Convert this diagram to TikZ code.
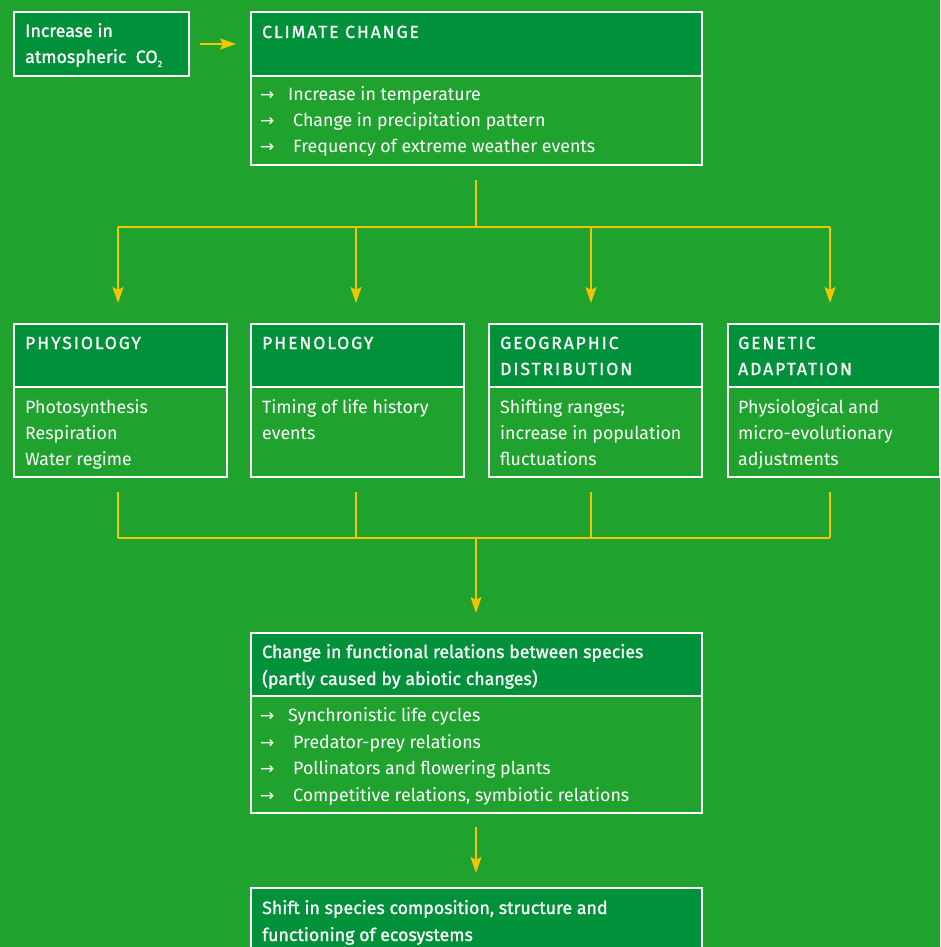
\documentclass[tikz,border=0pt]{standalone}
\usepackage{fontspec}
\setmainfont{Fira Sans}
\newfontfamily\hfont[LetterSpace=11,FakeBold=1.2]{Fira Sans}
\newfontfamily\bfont[FakeBold=1.2]{Fira Sans}
\newfontfamily\arrfont{DejaVu Sans}
\usetikzlibrary{arrows.meta}
\definecolor{bg}{HTML}{20A22E}
\definecolor{hd}{HTML}{00913A}
\definecolor{yl}{HTML}{F2C500}
\tikzset{
  hdrbox/.style={draw=white,line width=2pt,fill=hd,inner sep=0pt,anchor=north west},
  bodybox/.style={draw=white,line width=2pt,inner sep=0pt,anchor=north west},
  txt/.style={anchor=base west,inner sep=0pt,text=white,font=\fontsize{17.8}{20}\selectfont},
  htxt/.style={txt,font=\fontsize{17.5}{20}\hfont},
  btxt/.style={txt,font=\fontsize{17.8}{20}\bfont},
  bul/.style={anchor=base west,inner sep=0pt,text=white,font=\fontsize{17}{18}\arrfont},
  yline/.style={draw=yl,line width=2pt},
  yarrow/.style={yline,-{Stealth[length=16pt,width=11pt,inset=3pt]}}
}
\begin{document}
\begin{tikzpicture}[x=1pt,y=-1pt]
\clip (0,0) rectangle (940,947);
\fill[bg] (0,0) rectangle (940,947);

% CO2 box
\node[hdrbox,minimum width=175pt,minimum height=64pt] (co2) at (13,11) {};
\node[btxt] (co2a) at (25,37) {Increase in};
\node[btxt] (co2b) at (25,63) {atmospheric\ \ CO\raisebox{-4pt}{\fontsize{9}{9}\selectfont 2}};

% Climate change
\node[hdrbox,minimum width=451pt,minimum height=64pt] (climh) at (250,11) {};
\node[bodybox,minimum width=451pt,minimum height=89pt] (climb) at (250,75) {};
\node[htxt] (climt) at (262,38) {CLIMATE CHANGE};
\node[bul] (ca1) at (260,101) {→};
\node[txt] (c1) at (288,101) {Increase in temperature};
\node[bul] (ca2) at (260,127) {→};
\node[txt] (c2) at (293,127) {Change in precipitation pattern};
\node[bul] (ca3) at (260,153) {→};
\node[txt] (c3) at (293,153) {Frequency of extreme weather events};

% Row boxes
\node[hdrbox,minimum width=213pt,minimum height=63pt] (physh) at (13,323) {};
\node[bodybox,minimum width=213pt,minimum height=90pt] (physb) at (13,386) {};
\node[hdrbox,minimum width=213pt,minimum height=63pt] (phenh) at (250,323) {};
\node[bodybox,minimum width=213pt,minimum height=90pt] (phenb) at (250,386) {};
\node[hdrbox,minimum width=213pt,minimum height=63pt] (geoh) at (488,323) {};
\node[bodybox,minimum width=213pt,minimum height=90pt] (geob) at (488,386) {};
\node[hdrbox,minimum width=212pt,minimum height=63pt] (genh) at (727,323) {};
\node[bodybox,minimum width=212pt,minimum height=90pt] (genb) at (727,386) {};

\node[htxt] (pht) at (25,349) {PHYSIOLOGY};
\node[txt] (ph1) at (25,413) {Photosynthesis};
\node[txt] (ph2) at (25,439) {Respiration};
\node[txt] (ph3) at (25,465) {Water regime};

\node[htxt] (pnt) at (262,349) {PHENOLOGY};
\node[txt] (pn1) at (262,413) {Timing of life history};
\node[txt] (pn2) at (262,439) {events};

\node[htxt] (gdt1) at (500,349) {GEOGRAPHIC};
\node[htxt] (gdt2) at (500,375) {DISTRIBUTION};
\node[txt] (gd1) at (500,413) {Shifting ranges;};
\node[txt] (gd2) at (500,439) {increase in population};
\node[txt] (gd3) at (500,465) {fluctuations};

\node[htxt] (gat1) at (738,349) {GENETIC};
\node[htxt] (gat2) at (738,375) {ADAPTATION};
\node[txt] (ga1) at (738,413) {Physiological and};
\node[txt] (ga2) at (738,439) {micro-evolutionary};
\node[txt] (ga3) at (738,465) {adjustments};

% Functional relations
\node[hdrbox,minimum width=451pt,minimum height=63pt] (funch) at (250,632) {};
\node[bodybox,minimum width=451pt,minimum height=117pt] (funcb) at (250,695) {};
\node[btxt] (ft1) at (262,658) {Change in functional relations between species};
\node[btxt] (ft2) at (262,685) {(partly caused by abiotic changes)};
\node[bul] (fa1) at (260,721) {→};
\node[txt] (f1) at (288,721) {Synchronistic life cycles};
\node[bul] (fa2) at (260,748) {→};
\node[txt] (f2) at (293,748) {Predator-prey relations};
\node[bul] (fa3) at (260,774) {→};
\node[txt] (f3) at (293,774) {Pollinators and flowering plants};
\node[bul] (fa4) at (260,801) {→};
\node[txt] (f4) at (293,801) {Competitive relations, symbiotic relations};

% Shift box
\node[hdrbox,minimum width=451pt,minimum height=80pt] (shifth) at (250,887) {};
\node[btxt] (st1) at (262,914) {Shift in species composition, structure and};
\node[btxt] (st2) at (262,941) {functioning of ecosystems};

% Connectors
\draw[yarrow,shorten <=10pt,shorten >=14pt] (co2.east) -- (climh.west);

\coordinate (fork) at (476,227);
\coordinate (fa) at (118,227);
\coordinate (fb) at (356,227);
\coordinate (fc) at (591,227);
\coordinate (fd) at (830,227);
\draw[yline,shorten <=14pt] (climb.south -| fork) -- (fork);
\draw[yline] (fa) -- (fd);
\draw[yarrow,shorten >=20pt] (fa) -- (fa |- physh.north);
\draw[yarrow,shorten >=20pt] (fb) -- (fb |- phenh.north);
\draw[yarrow,shorten >=20pt] (fc) -- (fc |- geoh.north);
\draw[yarrow,shorten >=20pt] (fd) -- (fd |- genh.north);

\coordinate (merge) at (476,538);
\coordinate (ma) at (118,538);
\coordinate (mb) at (356,538);
\coordinate (mc) at (591,538);
\coordinate (md) at (830,538);
\draw[yline,shorten <=14pt] (ma |- physb.south) -- (ma);
\draw[yline,shorten <=14pt] (mb |- phenb.south) -- (mb);
\draw[yline,shorten <=14pt] (mc |- geob.south) -- (mc);
\draw[yline,shorten <=14pt] (md |- genb.south) -- (md);
\draw[yline] (ma) -- (md);
\draw[yarrow,shorten >=19pt] (merge) -- (merge |- funch.north);

\draw[yarrow,shorten <=13pt,shorten >=14pt] (funcb.south -| merge) -- (merge |- shifth.north);
\end{tikzpicture}
\end{document}
